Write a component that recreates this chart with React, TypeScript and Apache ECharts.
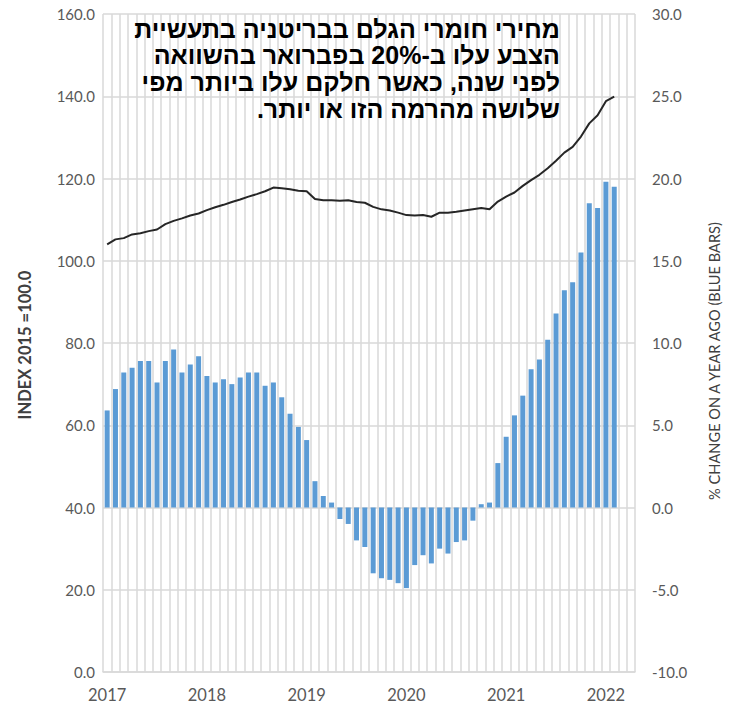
import React, { useEffect, useRef } from "react";
import * as echarts from "echarts";

const years = [2017, 2018, 2019, 2020, 2021, 2022];
const monthCount = 64; // Jan 2017 .. Apr 2022 slots

// % change on a year ago (blue bars), Jan 2017 .. Feb 2022
const pctChange = [
  5.9, 7.2, 8.2, 8.5, 8.9, 8.9, 7.6, 8.9, 9.6, 8.2, 8.7, 9.2,
  8.0, 7.6, 7.8, 7.5, 7.9, 8.2, 8.2, 7.4, 7.6, 6.7, 5.7, 4.9,
  4.1, 1.6, 0.7, 0.3, -0.7, -1.0, -2.0, -2.4, -4.0, -4.3, -4.4, -4.6,
  -4.9, -3.5, -2.9, -3.4, -2.5, -2.8, -2.1, -2.0, -0.8, 0.2, 0.3, 2.7,
  4.3, 5.6, 6.8, 8.4, 9.0, 10.2, 11.8, 13.2, 13.7, 15.5, 18.5, 18.2,
  19.8, 19.5,
];

// Index 2015 = 100 (black line), Jan 2017 .. Feb 2022
const indexValues = [
  104.0, 105.2, 105.5, 106.4, 106.7, 107.2, 107.6, 108.9, 109.7, 110.3, 111.0, 111.5,
  112.3, 113.0, 113.6, 114.3, 114.9, 115.6, 116.2, 116.9, 117.8, 117.6, 117.4, 117.0,
  116.9, 115.0, 114.7, 114.7, 114.6, 114.7, 114.3, 114.1, 113.1, 112.5, 112.2, 111.7,
  111.1, 111.0, 111.1, 110.7, 111.7, 111.7, 111.9, 112.2, 112.5, 112.8, 112.5, 114.4,
  115.6, 116.6, 118.2, 119.6, 120.9, 122.5, 124.3, 126.3, 127.7, 130.2, 133.4, 135.4,
  138.8, 139.9,
];

const titleLines = [
  "מחירי חומרי הגלם בבריטניה בתעשיית",
  "הצבע עלו ב-20% בפברואר בהשוואה",
  "לפני שנה, כאשר חלקם עלו ביותר מפי",
  "שלושה מהרמה הזו או יותר.",
];

const leftAxisName = "INDEX 2015 =100.0";
const rightAxisName = "% CHANGE ON A YEAR AGO (BLUE BARS)";

const months: string[] = [];
years.forEach((y) => {
  for (let m = 1; m <= 12; m++) months.push(`${y}-${String(m).padStart(2, "0")}`);
});
const categories = months.slice(0, monthCount);

export default function App() {
  const ref = useRef<HTMLDivElement>(null);
  useEffect(() => {
    document.body.style.margin = "0";
    if (!ref.current) return;
    const chart = echarts.init(ref.current, undefined, { renderer: "svg" });
    const font = "Lato, 'Open Sans', sans-serif";
    const grid = "#d9d9d9";
    const titleTexts = titleLines.map((t, i) => ({
      type: "text",
      x: 560,
      y: 28.5 + i * 26.7,
      z: 100,
      style: {
        text: "\u202B" + t + "\u202C",
        textAlign: "right",
        textVerticalAlign: "middle",
        align: "right",
        verticalAlign: "middle",
        fill: "#000000",
        font: "bold 25px 'Liberation Sans', Arial, sans-serif",
      },
    }));
    const axisNames = [
      {
        type: "text",
        x: 25,
        y: 345,
        rotation: Math.PI / 2,
        style: {
          text: leftAxisName,
          textAlign: "center",
          textVerticalAlign: "middle",
          align: "center",
          verticalAlign: "middle",
          fill: "#404040",
          font: "bold 16.5px Lato, 'Open Sans', sans-serif",
        },
      },
      {
        type: "text",
        x: 714,
        y: 361,
        rotation: Math.PI / 2,
        style: {
          text: rightAxisName,
          textAlign: "center",
          textVerticalAlign: "middle",
          align: "center",
          verticalAlign: "middle",
          fill: "#404040",
          font: "14.6px Lato, 'Open Sans', sans-serif",
        },
      },
    ];
    chart.setOption({
      animation: false,
      backgroundColor: "#ffffff",
      grid: { left: 103, right: 95, top: 14, bottom: 34, containLabel: false },
      xAxis: {
        type: "category",
        data: categories,
        boundaryGap: true,
        axisLine: { show: true, lineStyle: { color: grid, width: 1.5 } },
        axisTick: { show: false },
        axisLabel: {
          interval: 11,
          formatter: (v: string) => v.slice(0, 4),
          color: "#595959",
          fontSize: 16.5,
          fontFamily: font,
          margin: 14,
        },
        splitLine: { show: true, interval: 0, lineStyle: { color: grid, width: 1.5 } },
      },
      yAxis: [
        {
          type: "value",
          position: "left",
          min: 0,
          max: 160,
          interval: 20,
          axisLine: { show: false },
          axisTick: { show: false },
          axisLabel: {
            formatter: (v: number) => v.toFixed(1),
            color: "#595959",
            fontSize: 15,
            fontFamily: font,
            margin: 8,
          },
          splitLine: { show: true, lineStyle: { color: grid, width: 1.5 } },
        },
        {
          type: "value",
          position: "right",
          min: -10,
          max: 30,
          interval: 5,
          axisLine: { show: false },
          axisTick: { show: false },
          axisLabel: {
            formatter: (v: number) => v.toFixed(1),
            color: "#595959",
            fontSize: 15,
            fontFamily: font,
            margin: 17,
          },
          splitLine: { show: false },
        },
      ],
      graphic: [...titleTexts, ...axisNames],
      series: [
        {
          type: "bar",
          yAxisIndex: 1,
          data: pctChange,
          barWidth: 5,
          itemStyle: { color: "#5b9bd5" },
        },
        {
          type: "line",
          yAxisIndex: 0,
          data: indexValues,
          symbol: "none",
          lineStyle: { color: "#262626", width: 2 },
          z: 3,
        },
      ],
    });
    return () => chart.dispose();
  }, []);
  return <div ref={ref} style={{ width: 730, height: 706 }} />;
}
